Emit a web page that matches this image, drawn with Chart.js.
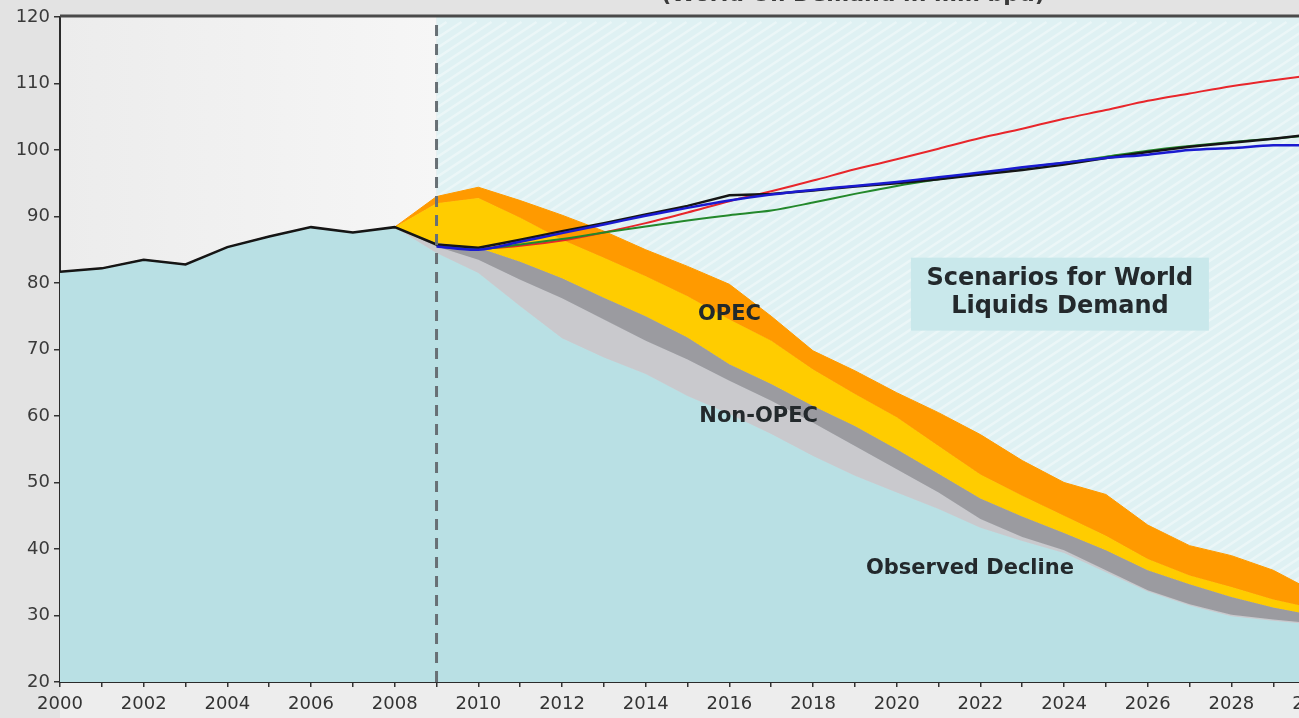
<!DOCTYPE html>
<html>
<head>
<meta charset="utf-8">
<title>Scenarios for World Liquids Demand</title>
<script src="https://cdn.jsdelivr.net/npm/chart.js@4.4.0/dist/chart.umd.min.js"></script>
<style>
  html, body { margin: 0; padding: 0; background: #e4e4e4; overflow: hidden; }
  #wrap { width: 1299px; height: 718px; overflow: hidden; position: relative; }
  canvas { display: block; }
</style>
</head>
<body>
<div id="wrap"><canvas id="demand-chart" width="1345" height="718"></canvas></div>
<script>
// years on the x axis
const years = [
  2000, 2001, 2002, 2003, 2004, 2005, 2006, 2007, 2008,
  2009, 2010, 2011, 2012, 2013, 2014, 2015, 2016, 2017, 2018, 2019,
  2020, 2021, 2022, 2023, 2024, 2025, 2026, 2027, 2028, 2029, 2030,
];
const forecastStart = 2009;

// world oil demand, mm bpd, 2000-2008
const historical = [81.7, 82.2, 83.5, 82.8, 85.4, 87.0, 88.4, 87.6, 88.4];

// demand scenarios, 2009-2030
const blackScenario = [85.8, 85.3, 86.5, 87.8, 89.0, 90.3, 91.6, 93.2, 93.4, 93.9, 94.5, 95.0, 95.6, 96.3, 97.0, 97.8, 98.8, 99.7, 100.5, 101.1, 101.7, 102.4];
const redScenario   = [85.7, 85.2, 85.6, 86.4, 87.6, 89.0, 90.6, 92.3, 93.8, 95.4, 97.1, 98.6, 100.2, 101.8, 103.2, 104.7, 106.0, 107.4, 108.5, 109.6, 110.5, 111.3];
const greenScenario = [85.6, 85.1, 85.8, 86.6, 87.6, 88.5, 89.4, 90.2, 90.9, 92.1, 93.4, 94.6, 95.6, 96.5, 97.3, 98.1, 99.0, 99.9, 100.6, 101.2, 101.7, 102.3];
const blueScenario  = [85.5, 85.0, 86.2, 87.5, 88.8, 90.1, 91.3, 92.4, 93.3, 94.0, 94.6, 95.2, 95.9, 96.6, 97.4, 98.1, 98.8, 99.3, 100.0, 100.3, 100.7, 100.7];

// supply bands (upper edge of each layer), 2009-2030
const declineTop   = [84.5, 81.5, 76.5, 71.7, 68.8, 66.3, 63.0, 60.3, 57.3, 54.0, 51.0, 48.5, 46.0, 43.2, 41.2, 39.4, 36.5, 33.6, 31.5, 29.9, 29.2, 28.6];
const lightGrayTop = [85.5, 83.5, 80.5, 77.7, 74.5, 71.3, 68.5, 65.3, 62.3, 59.0, 55.5, 52.0, 48.5, 44.5, 41.8, 39.8, 36.8, 33.8, 31.7, 30.1, 29.4, 28.8];
const nonOpecTop   = [86.0, 85.3, 83.2, 80.7, 77.8, 75.0, 71.8, 67.8, 64.8, 61.5, 58.5, 55.0, 51.3, 47.6, 44.9, 42.4, 39.8, 36.8, 34.7, 32.8, 31.2, 30.0];
const yellowTop    = [92.0, 92.8, 89.8, 86.5, 83.8, 81.0, 78.0, 74.5, 71.3, 67.0, 63.3, 59.8, 55.5, 51.2, 48.0, 45.0, 42.0, 38.5, 36.0, 34.3, 32.4, 31.0];
const opecTop      = [93.0, 94.4, 92.4, 90.2, 87.8, 85.0, 82.5, 79.8, 75.0, 69.8, 66.8, 63.5, 60.5, 57.2, 53.3, 50.0, 48.2, 43.6, 40.5, 39.0, 36.8, 33.5];

const yTicks = { min: 20, max: 120, step: 10 };

// text notes placed in data units
const notes = [
  { text: 'OPEC', year: 2016.0, value: 75.2 },
  { text: 'Non-OPEC', year: 2016.7, value: 59.9 },
  { text: 'Observed Decline', year: 2021.75, value: 37.1 },
];
const boxLines = ['Scenarios for World', 'Liquids Demand'];
const boxAt = { year: 2023.9, value: 78.4 };


const histYears = years.slice(0, historical.length);
const projYears = years.slice(historical.length);

function toPoints(xs, ys) {
  return xs.map((x, i) => ({ x: x, y: ys[i] }));
}

function band(top) {
  return toPoints(histYears, historical).concat(toPoints(projYears, top));
}

function area(label, top, color, fill, order) {
  return {
    label: label,
    data: band(top),
    fill: fill,
    backgroundColor: color,
    borderColor: color,
    borderWidth: 1,
    tension: 0,
    order: order,
  };
}

function line(label, points, color, width, order) {
  return {
    label: label,
    data: points,
    fill: false,
    borderColor: color,
    borderWidth: width,
    tension: 0.3,
    order: order,
  };
}


const backdrop = {
  id: 'backdrop',
  beforeDraw(chart) {
    const { ctx, chartArea: a, scales: { x } } = chart;
    const split = x.getPixelForValue(forecastStart);

    ctx.save();
    ctx.fillStyle = '#e3e3e3';
    ctx.fillRect(0, 0, chart.width, chart.height);
    ctx.fillStyle = '#ededed';
    ctx.fillRect(a.left, a.bottom, chart.width - a.left, chart.height - a.bottom);

    const g = ctx.createLinearGradient(a.left, 0, split, 0);
    g.addColorStop(0, '#ececec');
    g.addColorStop(1, '#f6f6f6');
    ctx.fillStyle = g;
    ctx.fillRect(a.left, a.top, split - a.left, a.bottom - a.top);

    ctx.fillStyle = '#dff1f3';
    ctx.fillRect(split, a.top, a.right - split, a.bottom - a.top);

    // faint diagonal sheen
    ctx.beginPath();
    ctx.rect(split, a.top, a.right - split, a.bottom - a.top);
    ctx.clip();
    ctx.strokeStyle = 'rgba(255,255,255,0.38)';
    ctx.lineWidth = 2.5;
    for (let i = -1200; i < a.right - split + 100; i += 15) {
      ctx.beginPath();
      ctx.moveTo(split + i, a.bottom);
      ctx.lineTo(split + i + 1000, a.bottom - 660);
      ctx.stroke();
    }
    ctx.restore();
  },
};

const overlay = {
  id: 'overlay',
  afterDatasetsDraw(chart) {
    const { ctx, chartArea: a, scales: { x, y } } = chart;
    ctx.save();

    // forecast divider
    const split = x.getPixelForValue(forecastStart);
    ctx.strokeStyle = '#687075';
    ctx.lineWidth = 3;
    ctx.setLineDash([11, 8]);
    ctx.beginPath();
    ctx.moveTo(split, a.top + 8);
    ctx.lineTo(split, a.bottom);
    ctx.stroke();
    ctx.setLineDash([]);

    // box note
    const bx = x.getPixelForValue(boxAt.year);
    const by = y.getPixelForValue(boxAt.value);
    ctx.fillStyle = '#c9e8eb';
    ctx.fillRect(bx - 149, by - 36, 298, 73);
    ctx.fillStyle = '#23292c';
    ctx.font = 'bold 24px "DejaVu Sans"';
    ctx.textAlign = 'center';
    ctx.textBaseline = 'middle';
    ctx.fillText(boxLines[0], bx, by - 15);
    ctx.fillText(boxLines[1], bx, by + 13);

    ctx.font = 'bold 21px "DejaVu Sans"';
    notes.forEach(n => {
      ctx.fillText(n.text, x.getPixelForValue(n.year), y.getPixelForValue(n.value));
    });
    ctx.restore();
  },
  afterDraw(chart) {
    const { ctx, chartArea: a } = chart;
    ctx.save();
    ctx.strokeStyle = '#4a4a4a';
    ctx.lineWidth = 3;
    ctx.beginPath();
    ctx.moveTo(a.left, a.top - 1);
    ctx.lineTo(chart.width, a.top - 1);
    ctx.stroke();

    ctx.fillStyle = '#3a3a3a';
    ctx.font = 'bold 22px "DejaVu Sans"';
    ctx.textAlign = 'center';
    ctx.textBaseline = 'alphabetic';
    ctx.fillText('(World Oil Demand in mm bpd)', 853, 1);
    ctx.restore();
  },
};


const ctx = document.getElementById('demand-chart').getContext('2d');

new Chart(ctx, {
  type: 'line',
  data: {
    datasets: [
      area('Observed Decline', declineTop, '#b9e0e4', 'start', 10),
      area('Decline range', lightGrayTop, '#c9c9cd', '-1', 9),
      area('Non-OPEC', nonOpecTop, '#9b9ba0', '-1', 8),
      area('OPEC', yellowTop, '#ffcc00', '-1', 7),
      area('OPEC range', opecTop, '#ff9a00', '-1', 6),
      line('Scenario high', toPoints(projYears, redScenario), '#e8262b', 2, 4),
      line('Scenario low', toPoints(projYears, greenScenario), '#23882b', 2, 3),
      {
        label: 'World demand',
        data: toPoints(years, historical.concat(blackScenario)),
        fill: false,
        borderColor: '#151515',
        borderWidth: 2.5,
        tension: 0,
        order: 2,
      },
      line('Scenario mid', toPoints(projYears, blueScenario), '#1a1ad0', 2.5, 1),
    ],
  },
  options: {
    responsive: false,
    animation: false,
    devicePixelRatio: 1,
    layout: { padding: { left: 0, top: 17, right: 28, bottom: 0 } },
    elements: { point: { radius: 0 } },
    plugins: {
      legend: { display: false },
      tooltip: { enabled: false },
    },
    scales: {
      x: {
        type: 'linear',
        min: years[0],
        max: years[years.length - 1],
        afterFit(scale) { scale.height = 36; },
        ticks: {
          stepSize: 1,
          autoSkip: false,
          maxRotation: 0,
          padding: 7,
          color: '#333',
          font: { family: 'DejaVu Sans', size: 18 },
          callback: v => (v % 2 === 0 ? String(v) : ''),
        },
        grid: { drawOnChartArea: false, drawTicks: true, tickLength: 5, color: '#333', lineWidth: 1.5 },
        border: { display: true, color: '#2b2b2b', width: 2 },
      },
      y: {
        min: yTicks.min,
        max: yTicks.max,
        afterFit(scale) { scale.width = 60; },
        ticks: {
          stepSize: yTicks.step,
          padding: 4,
          color: '#3a3a3a',
          font: { family: 'DejaVu Sans', size: 18 },
        },
        grid: { drawOnChartArea: false, drawTicks: true, tickLength: 6, color: '#333', lineWidth: 1.5 },
        border: { display: true, color: '#2b2b2b', width: 2 },
      },
    },
  },
  plugins: [backdrop, overlay],
});
</script>
</body>
</html>
